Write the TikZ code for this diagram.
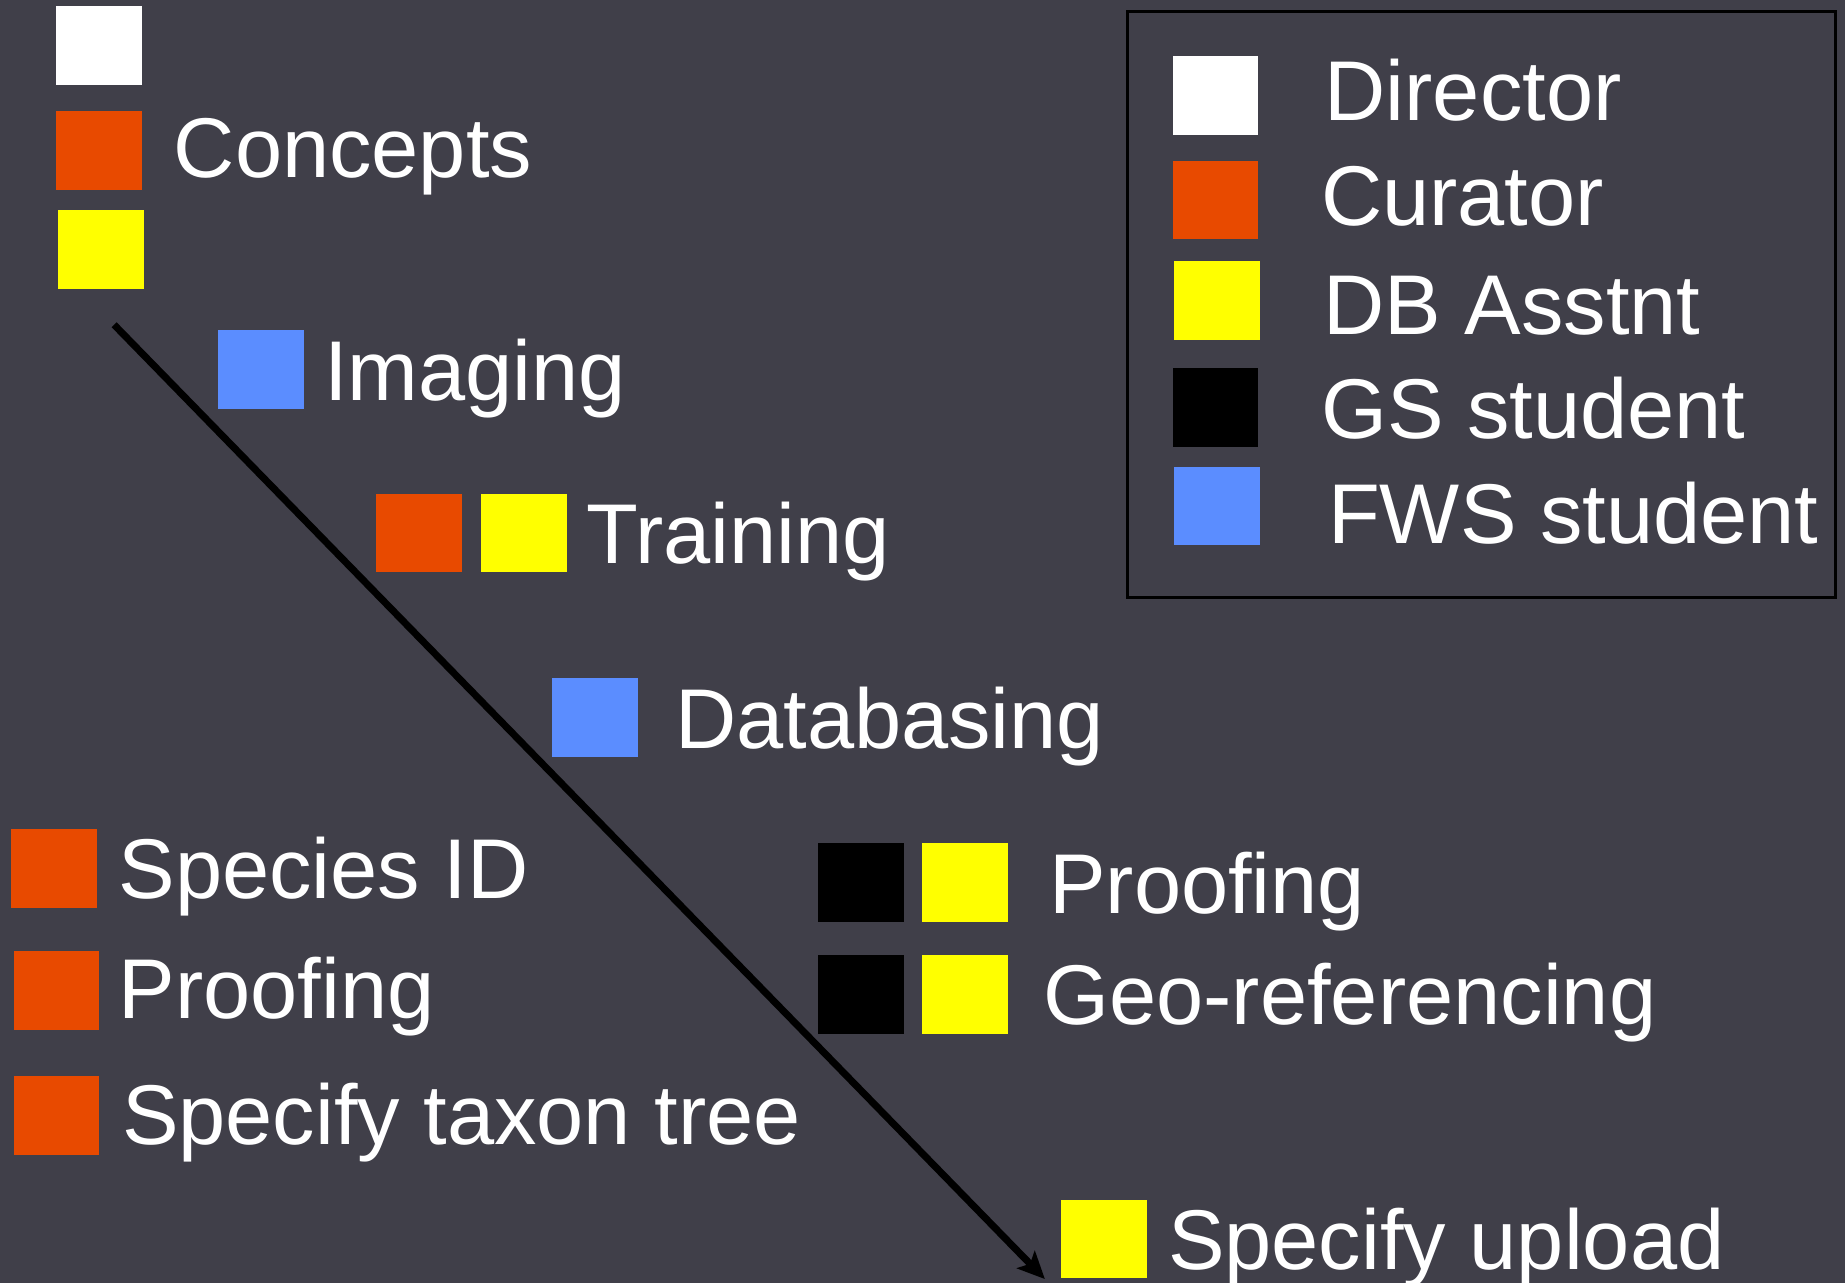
\documentclass[tikz,border=0pt]{standalone}
\usepackage{fontspec}
\setmainfont{Liberation Sans}
\usetikzlibrary{arrows.meta}

\definecolor{slate}{RGB}{64,63,73}
\definecolor{curator}{RGB}{232,74,0}
\definecolor{dbasst}{RGB}{255,255,0}
\definecolor{fws}{RGB}{91,141,255}

\tikzset{
  role/.style={rectangle, inner sep=0pt, minimum width=0.73cm, minimum height=0.67cm},
  task/.style={anchor=base west, inner sep=0pt, text=white,
    font=\fontsize{20.5}{24}\selectfont},
}

\begin{document}
\begin{tikzpicture}[x=0.01cm,y=-0.01cm]
\useasboundingbox (0,0) rectangle (1568,1090);
\fill[slate] (0,0) rectangle (1568,1090);

% left column, top to bottom
\node[role,fill=white] (D0) at (84,39) {};
\node[role,fill=curator] (C0) at (84,128) {};
\node[role,fill=dbasst] (Y0) at (86,212) {};
\node[task] (concepts) at (147,151) {Concepts};

\node[role,fill=fws] (F1) at (222,314) {};
\node[task] (imaging) at (275,340) {Imaging};

\node[role,fill=curator] (C2) at (356,453) {};
\node[role,fill=dbasst] (Y2) at (445,453) {};
\node[task] (training) at (498,479) {Training};

\node[role,fill=fws] (F3) at (506,610) {};
\node[task] (databasing) at (573,636) {Databasing};

\node[role,fill=black] (G4) at (732,750) {};
\node[role,fill=dbasst] (Y4) at (820,750) {};
\node[task] (proof1) at (891,776) {Proofing};

\node[role,fill=black] (G5) at (732,845) {};
\node[role,fill=dbasst] (Y5) at (820,845) {};
\node[task] (georef) at (886,871) {Geo-referencing};

\node[role,fill=dbasst] (Y6) at (938,1053) {};
\node[task] (upload) at (992,1079) {Specify upload};

% curator tasks beside the flow
\node[role,fill=curator] (C7) at (46,738) {};
\node[task] (speciesid) at (100,764) {Species ID};
\node[role,fill=curator] (C8) at (48,842) {};
\node[task] (proof2) at (100,866) {Proofing};
\node[role,fill=curator] (C9) at (48,948) {};
\node[task] (taxontree) at (103,973) {Specify taxon tree};

% the workflow arrow
\coordinate (flowtop) at (97,276);
\coordinate (flowend) at (888,1087);
\draw[-{Stealth[length=0.23cm,width=0.21cm,inset=0.05cm]},line width=1.7pt,black] (flowtop) -- (flowend);

% legend
\draw[black,line width=0.8pt] (958,10) rectangle (1560,508);
\node[role,fill=white] (L1) at (1033,81) {};
\node[task] (director) at (1125,102) {Director};
\node[role,fill=curator] (L2) at (1033,170) {};
\node[task] (curator) at (1122,192) {Curator};
\node[role,fill=dbasst] (L3) at (1034,255) {};
\node[task] (asstnt) at (1124,284) {DB Asstnt};
\node[role,fill=black] (L4) at (1033,346) {};
\node[task] (gs) at (1122,373) {GS student};
\node[role,fill=fws] (L5) at (1034,430) {};
\node[task] (fwsst) at (1128,462) {FWS student};
\end{tikzpicture}
\end{document}
